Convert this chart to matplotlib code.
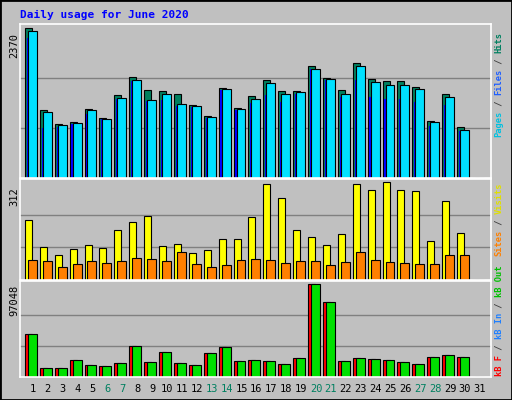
import numpy as np
import matplotlib
matplotlib.use('Agg')
import matplotlib.pyplot as plt
from matplotlib.patches import Rectangle

days = list(range(1, 32))
weekend = [6, 7, 13, 14, 20, 21, 27, 28]

hits = [2370, 1077, 850, 883, 1093, 948, 1319, 1594, 1400, 1384, 1336, 1158, 980, 1433,
        1110, 1304, 1546, 1384, 1384, 1772, 1578, 1400, 1821, 1562, 1530, 1530, 1449, 905, 1336, 802, 0]
files = [2338, 1045, 834, 867, 1077, 932, 1271, 1546, 1239, 1336, 1174, 1142, 964, 1417,
         1093, 1255, 1498, 1336, 1368, 1724, 1562, 1336, 1772, 1514, 1481, 1481, 1417, 883, 1287, 754, 0]
pages = [2224, 786, 802, 850, 1012, 932, 1255, 1530, 1223, 1239, 1142, 1126, 948, 1400,
         1077, 1190, 1320, 1206, 1336, 1724, 1546, 1287, 1546, 1287, 1255, 1255, 1206, 819, 1158, 738, 0]
visits = [190, 105, 81, 98, 112, 102, 159, 186, 203, 108, 115, 85, 95, 129,
          132, 200, 305, 261, 159, 136, 112, 146, 305, 285, 312, 285, 282, 125, 251, 149, 0]
sites = [65, 61, 41, 51, 61, 54, 61, 71, 68, 61, 88, 51, 41, 48,
         65, 68, 65, 54, 61, 61, 48, 58, 88, 65, 58, 54, 51, 51, 81, 81, 0]
kbin = [44400, 8900, 8900, 17400, 12100, 11000, 14200, 32000, 15300, 25900, 14200, 12100, 24900, 31000,
        16300, 17400, 16300, 13200, 19500, 97048, 78000, 16300, 19500, 18500, 17400, 15300, 13200, 20600, 22700, 20600, 0]

BG = '#C0C0C0'
W, H = 512, 400
fig = plt.figure(figsize=(W / 100, H / 100), dpi=100, facecolor=BG)
mono = 'DejaVu Sans Mono'
XLIM = (0.13, 31.74)

def box(x0, y0, x1, y1):
    return fig.add_axes([x0 / W, 1 - y1 / H, (x1 - x0) / W, (y1 - y0) / H])

def setup(ax, vmax):
    ax.set_facecolor(BG)
    ax.set_xlim(*XLIM)
    ax.set_ylim(0, vmax * 1.03)
    ax.set_xticks([]); ax.set_yticks([])
    for s in ax.spines.values():
        s.set_color('white'); s.set_linewidth(1.2)
    for f in (1 / 3, 2 / 3):
        ax.axhline(vmax * f, color='#808080', lw=1, zorder=0)

x = np.array(days)
ax1 = box(20, 24, 491, 178)
setup(ax1, 2370)
ax1.bar(x - 0.54, hits, width=0.47, align='edge', color='#00805F', edgecolor='black', lw=0.8)
ax1.bar(x - 0.42, pages, width=0.1, align='edge', color='#0000FF', edgecolor='none')
ax1.bar(x - 0.34, files, width=0.6, align='edge', color='#00E0FF', edgecolor='black', lw=0.8)

ax2 = box(20, 179, 491, 280)
setup(ax2, 312)
ax2.bar(x - 0.54, visits, width=0.47, align='edge', color='#FFFF00', edgecolor='black', lw=0.8)
ax2.bar(x - 0.34, sites, width=0.6, align='edge', color='#FF8000', edgecolor='black', lw=0.8)

ax3 = box(20, 281, 491, 377)
setup(ax3, 97048)
ax3.bar(x - 0.54, kbin, width=0.47, align='edge', color='#FF0000', edgecolor='black', lw=0.8)
ax3.bar(x - 0.34, kbin, width=0.6, align='edge', color='#00E000', edgecolor='black', lw=0.8)

for d in days:
    xp = 20 + (d - XLIM[0]) / (XLIM[1] - XLIM[0]) * 471
    fig.text(xp / W, 1 - 389 / H, str(d), ha='center', va='center', fontsize=7.5,
             family=mono, color='#008060' if d in weekend else 'black')

fig.text(20 / W, 1 - 15 / H, 'Daily usage for June 2020', color='#0000FF', fontsize=8,
         fontweight='bold', family=mono, va='center')
for yp, t in ((45, '2370'), (197, '312'), (300, '97048')):
    fig.text(14 / W, 1 - yp / H, t, rotation=90, ha='center', va='center', fontsize=7.5, family=mono)

def vlabel(parts, ybottom):
    y = ybottom
    for t, c in parts:
        fig.text(499 / W, 1 - y / H, t, rotation=90, ha='center', va='bottom', fontsize=6.3,
                 family=mono, color=c, fontweight='bold')
        y -= len(t) * 5.25
vlabel([('Pages', '#00C0E0'), (' / ', '#404040'), ('Files', '#2060FF'), (' / ', '#404040'), ('Hits', '#008060')], 137)
vlabel([('Sites', '#FF8000'), (' / ', '#404040'), ('Visits', '#E0E000')], 256)
vlabel([('kB F', '#FF0000'), (' / ', '#404040'), ('kB In', '#2080FF'), (' / ', '#404040'), ('kB Out', '#00C000')], 376)

border = Rectangle((0, 0), 1, 1, transform=fig.transFigure, fill=False, ec='black', lw=2)
fig.patches.append(border)
fig.savefig('out.png', dpi=100, facecolor=BG)
